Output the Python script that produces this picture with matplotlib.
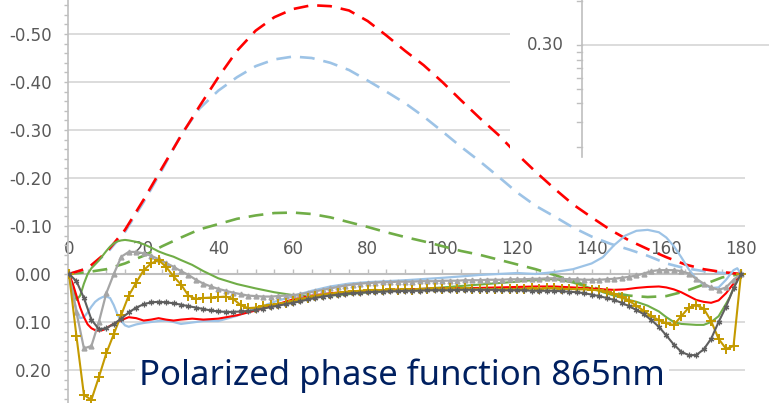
import numpy as np
import matplotlib
matplotlib.use("Agg")
import matplotlib.pyplot as plt
from matplotlib.patches import Rectangle
from matplotlib.ticker import FixedLocator, MultipleLocator, NullFormatter

# ---------------- data ----------------
ANGLE_5DEG = np.arange(0, 181, 5)
ANGLE_2DEG = np.arange(0, 181, 2)
ANGLE_SOLID = [0, 1, 2, 3, 4, 5, 6, 7, 8, 9, 10, 11, 12, 13, 14, 15, 16, 18, 20, 22, 24, 26, 28, 30,
               33, 36, 40, 45, 50, 55, 60, 65, 70, 75, 80, 90, 100, 110, 120, 125, 130, 135, 140,
               143, 146, 149, 152, 155, 158, 160, 162, 164, 166, 168, 170, 172, 174, 176, 177, 178, 179, 180]

red_dashed = [0, -0.012, -0.045, -0.092, -0.155, -0.222, -0.288, -0.35, -0.41, -0.465, -0.507, -0.535,
              -0.552, -0.56, -0.558, -0.549, -0.527, -0.497, -0.465, -0.435, -0.4, -0.362, -0.325, -0.29,
              -0.25, -0.213, -0.178, -0.145, -0.118, -0.092, -0.07, -0.052, -0.035, -0.02, -0.01, -0.004, 0]
blue_dashed = [0, -0.012, -0.042, -0.088, -0.15, -0.218, -0.29, -0.345, -0.382, -0.41, -0.433, -0.447,
               -0.453, -0.45, -0.44, -0.425, -0.403, -0.38, -0.356, -0.328, -0.297, -0.265, -0.235, -0.203,
               -0.17, -0.142, -0.12, -0.097, -0.078, -0.063, -0.051, -0.038, -0.022, -0.012, -0.006, -0.002, 0]
green_dashed = [0, -0.004, -0.01, -0.022, -0.038, -0.058, -0.076, -0.093, -0.104, -0.115, -0.122, -0.127,
                -0.128, -0.125, -0.118, -0.108, -0.098, -0.087, -0.077, -0.068, -0.058, -0.048, -0.04, -0.03,
                -0.02, -0.01, 0.002, 0.015, 0.027, 0.038, 0.045, 0.048, 0.046, 0.036, 0.022, 0.007, 0]

green_solid = [0, 0.03, 0.054, 0.045, 0.02, 0.0, -0.012, -0.02, -0.028, -0.038, -0.048, -0.057, -0.064,
               -0.068, -0.07, -0.071, -0.07, -0.067, -0.062, -0.055, -0.047, -0.041, -0.036, -0.029,
               -0.019, -0.006, 0.009, 0.021, 0.03, 0.038, 0.044, 0.046, 0.045, 0.042, 0.038, 0.033, 0.028,
               0.022, 0.016, 0.012, 0.01, 0.018, 0.03, 0.038, 0.045, 0.052, 0.058, 0.066, 0.078, 0.09, 0.1,
               0.104, 0.105, 0.106, 0.106, 0.1, 0.088, 0.062, 0.048, 0.03, 0.012, 0]
red_solid = [0, 0.02, 0.045, 0.07, 0.09, 0.105, 0.113, 0.117, 0.118, 0.117, 0.113, 0.108, 0.104, 0.1,
             0.096, 0.093, 0.09, 0.092, 0.097, 0.095, 0.092, 0.095, 0.097, 0.095, 0.093, 0.095, 0.093,
             0.086, 0.076, 0.065, 0.053, 0.045, 0.04, 0.037, 0.035, 0.032, 0.03, 0.029, 0.027, 0.026,
             0.026, 0.028, 0.03, 0.032, 0.033, 0.032, 0.029, 0.027, 0.026, 0.028, 0.032, 0.038, 0.046,
             0.054, 0.058, 0.06, 0.055, 0.04, 0.03, 0.02, 0.008, 0]
blue_solid = [0, 0.04, 0.075, 0.092, 0.09, 0.08, 0.068, 0.058, 0.052, 0.048, 0.047, 0.05, 0.065, 0.085,
              0.098, 0.107, 0.11, 0.105, 0.102, 0.1, 0.098, 0.097, 0.1, 0.104, 0.101, 0.098, 0.098, 0.087,
              0.072, 0.058, 0.046, 0.035, 0.026, 0.02, 0.017, 0.013, 0.008, 0.002, -0.002, 0.0, -0.004,
              -0.01, -0.022, -0.035, -0.06, -0.08, -0.09, -0.092, -0.087, -0.076, -0.058, -0.035, -0.01,
              0.01, 0.022, 0.029, 0.028, 0.012, 0.002, -0.008, -0.012, 0]

gray_tri = [0, 0.08, 0.155, 0.15, 0.1, 0.04, 0.0, -0.036, -0.046, -0.046, -0.043, -0.038, -0.031, -0.023,
            -0.015, -0.006, 0.002, 0.012, 0.02, 0.026, 0.031, 0.035, 0.039, 0.042, 0.045, 0.046, 0.047,
            0.047, 0.046, 0.045, 0.044, 0.042, 0.039, 0.036, 0.033, 0.03, 0.027, 0.024, 0.022, 0.02, 0.019,
            0.018, 0.017, 0.017, 0.016, 0.016, 0.016, 0.015, 0.015, 0.015, 0.014, 0.014, 0.014, 0.013,
            0.013, 0.013, 0.012, 0.012, 0.012, 0.011, 0.011, 0.011, 0.01, 0.01, 0.009, 0.009, 0.01, 0.011,
            0.011, 0.012, 0.012, 0.012, 0.011, 0.01, 0.008, 0.006, 0.003, -0.001, -0.006, -0.008, -0.008,
            -0.008, -0.006, -0.001, 0.01, 0.02, 0.028, 0.033, 0.028, 0.012, 0]
dark_star = [0, 0.015, 0.05, 0.095, 0.115, 0.113, 0.104, 0.093, 0.08, 0.07, 0.063, 0.059, 0.058, 0.059,
             0.061, 0.064, 0.067, 0.07, 0.073, 0.076, 0.078, 0.079, 0.079, 0.078, 0.077, 0.075, 0.072,
             0.069, 0.066, 0.063, 0.06, 0.057, 0.053, 0.05, 0.047, 0.045, 0.043, 0.041, 0.04, 0.039, 0.038,
             0.037, 0.037, 0.036, 0.036, 0.035, 0.035, 0.035, 0.034, 0.034, 0.034, 0.034, 0.033, 0.033,
             0.033, 0.033, 0.033, 0.033, 0.034, 0.034, 0.034, 0.034, 0.035, 0.035, 0.035, 0.035, 0.036,
             0.037, 0.038, 0.04, 0.043, 0.046, 0.05, 0.054, 0.06, 0.067, 0.075, 0.084, 0.096, 0.11, 0.128,
             0.147, 0.162, 0.169, 0.169, 0.157, 0.135, 0.1, 0.068, 0.03, 0]
gold_plus = [0, 0.13, 0.252, 0.262, 0.215, 0.165, 0.125, 0.085, 0.045, 0.018, -0.008, -0.022, -0.029,
             -0.015, 0.005, 0.022, 0.045, 0.052, 0.05, 0.049, 0.048, 0.047, 0.052, 0.065, 0.071, 0.07,
             0.066, 0.064, 0.062, 0.06, 0.057, 0.053, 0.05, 0.046, 0.043, 0.041, 0.039, 0.037, 0.036,
             0.035, 0.034, 0.033, 0.034, 0.032, 0.033, 0.032, 0.033, 0.031, 0.032, 0.03, 0.031, 0.03,
             0.031, 0.03, 0.031, 0.031, 0.032, 0.031, 0.032, 0.031, 0.032, 0.031, 0.03, 0.031, 0.03, 0.03,
             0.031, 0.031, 0.032, 0.032, 0.033, 0.034, 0.037, 0.041, 0.047, 0.056, 0.066, 0.077, 0.088,
             0.096, 0.103, 0.106, 0.088, 0.07, 0.065, 0.072, 0.098, 0.135, 0.156, 0.15, 0]

X_TICK_LABELS = ["0", "20", "40", "60", "80", "100", "120", "140", "160", "180"]
X_TICK_VALUES = [0, 20, 40, 60, 80, 100, 120, 140, 160, 180]
Y_TICK_VALUES = [-0.5, -0.4, -0.3, -0.2, -0.1, 0.0, 0.1, 0.2]
Y_TICK_LABELS = ["-0.50", "-0.40", "-0.30", "-0.20", "-0.10", "0.00", "0.10", "0.20"]
TITLE = "Polarized phase function 865nm"

# ---------------- figure ----------------
W, H = 769, 403
fig = plt.figure(figsize=(W / 100, H / 100), dpi=100)
fig.patch.set_facecolor("white")

ax = fig.add_axes([68 / W, 0, (745 - 68) / W, 1])
ax.set_zorder(1)
ax.set_xlim(-1 / 3.7333, 676 / 3.7333)
ax.set_ylim(129 / 480, -274 / 480)
ax.set_facecolor("white")

AXC = "#BFBFBF"
GRIDC = "#D9D9D9"
TXTC = "#595959"

for v in Y_TICK_VALUES:
    if v != 0:
        ax.axhline(v, color=GRIDC, lw=1.3, zorder=0)

for s in ["top", "right"]:
    ax.spines[s].set_visible(False)
ax.spines["bottom"].set_position(("data", 0))
ax.spines["bottom"].set_color(AXC)
ax.spines["bottom"].set_linewidth(1.5)
ax.spines["left"].set_color(AXC)
ax.spines["left"].set_linewidth(1.2)

ax.yaxis.set_major_locator(FixedLocator(Y_TICK_VALUES))
ax.set_yticklabels(Y_TICK_LABELS)
ax.yaxis.set_minor_locator(MultipleLocator(0.02))
ax.tick_params(axis="y", which="both", direction="out", length=3.2, color=AXC, width=1,
               labelsize=12, labelcolor=TXTC, pad=8.5)
ax.xaxis.set_major_locator(MultipleLocator(5))
ax.xaxis.set_major_formatter(NullFormatter())
ax.tick_params(axis="x", which="both", direction="in", length=3.6, color=AXC, width=1)
for v, lab in zip(X_TICK_VALUES, X_TICK_LABELS):
    ax.annotate(lab, (v, 0), xytext=(0, 25.5), textcoords="offset pixels",
                ha="center", va="center", fontsize=12, color=TXTC, zorder=1)

RED = "#FF0000"
LBLUE = "#9DC3E6"
GREEN = "#70AD47"
GRAY = "#A5A5A5"
DGRAY = "#5F5F5F"
GOLD = "#C49A00"

DASH = (5.6, 3.4)
l1, = ax.plot(ANGLE_5DEG, green_dashed, color=GREEN, lw=1.9, zorder=3)
l2, = ax.plot(ANGLE_5DEG, blue_dashed, color=LBLUE, lw=1.9, zorder=3)
l3, = ax.plot(ANGLE_5DEG, red_dashed, color=RED, lw=1.9, zorder=3)
for ln in (l1, l2, l3):
    ln.set_dashes(DASH)
ax.plot(ANGLE_SOLID, green_solid, color=GREEN, lw=1.5, zorder=4)
ax.plot(ANGLE_SOLID, blue_solid, color=LBLUE, lw=1.6, zorder=4)
ax.plot(ANGLE_SOLID, red_solid, color=RED, lw=1.5, zorder=4)
ax.plot(ANGLE_2DEG, gray_tri, color=GRAY, lw=1.6, marker="^", ms=3.5, mec=GRAY, mfc=GRAY, zorder=5)
ax.plot(ANGLE_2DEG, gold_plus, color=GOLD, lw=1.5, marker="+", ms=7, mew=1.4, zorder=6)
ax.plot(ANGLE_2DEG, dark_star, color=DGRAY, lw=1.5, marker=(6, 2, 0), ms=4, mew=0.9, zorder=7)

# ---------------- overlapping inset (part of another chart) ----------------
ix0, iy1 = 510, 157
cover = Rectangle((ix0 / W, (H - iy1) / H), (W - ix0) / W, iy1 / H, transform=fig.transFigure,
                  facecolor="white", edgecolor="none", zorder=1.5)
fig.add_artist(cover)
ax2 = fig.add_axes([ix0 / W, (H - iy1) / H, (W - ix0) / W, iy1 / H])
ax2.set_zorder(2)
ax2.patch.set_alpha(0)
ax2.set_xlim(0, W - ix0)
ax2.set_ylim(iy1, 0)
for s in ax2.spines.values():
    s.set_visible(False)
ax2.set_xticks([])
ax2.set_yticks([])
sx = 582 - ix0
ax2.plot([sx, W - ix0], [45, 45], color=GRIDC, lw=1.3, clip_on=False)
ax2.plot([sx, sx], [0, iy1], color=AXC, lw=1.2, clip_on=False)
for ty in [1, 45, 52, 60, 68, 78, 89, 103, 122, 147]:
    ax2.plot([sx - 5, sx], [ty, ty], color=AXC, lw=1)
ax2.text(sx - 18, 45, "0.30", ha="right", va="center", fontsize=12, color=TXTC)

# ---------------- title ----------------
fig.text(402 / W, (H - 385) / H, TITLE, ha="center", va="baseline", fontsize=25,
         family="Noto Sans", color="#002060", zorder=10,
         bbox=dict(facecolor="white", edgecolor="none", pad=3))

fig.savefig("out.png", dpi=100, facecolor="white")
